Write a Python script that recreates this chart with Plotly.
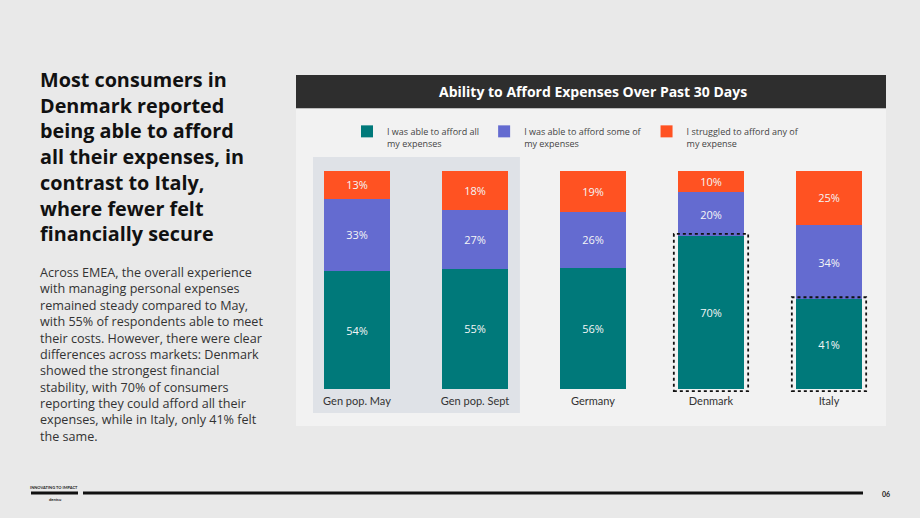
import plotly.graph_objects as go

categories = ["Gen pop. May", "Gen pop. Sept", "Germany", "Denmark", "Italy"]
afford_all = [54, 55, 56, 70, 41]
afford_some = [33, 27, 26, 20, 34]
struggled = [13, 18, 19, 10, 25]
series_names = [
    "I was able to afford all<br>my expenses",
    "I was able to afford some of<br>my expenses",
    "I struggled to afford any of<br>my expense",
]
colors = ["#00797a", "#646bd0", "#ff5222"]
highlighted = ["Denmark", "Italy"]

headline = [
    "Most consumers in", "Denmark reported", "being able to afford",
    "all their expenses, in", "contrast to Italy,", "where fewer felt",
    "financially secure",
]
body = [
    "Across EMEA, the overall experience",
    "with managing personal expenses",
    "remained steady compared to May,",
    "with 55% of respondents able to meet",
    "their costs. However, there were clear",
    "differences across markets: Denmark",
    "showed the strongest financial",
    "stability, with 70% of consumers",
    "reporting they could afford all their",
    "expenses, while in Italy, only 41% felt",
    "the same.",
]
chart_title = "Ability to Afford Expenses Over Past 30 Days"

W, H = 920, 518
FONT = "Lato"
FONT2 = "Open Sans"

totals = [a + b + c for a, b, c in zip(afford_all, afford_some, struggled)]

fig = go.Figure()
for name, vals, col in zip(series_names, [afford_all, afford_some, struggled], colors):
    fig.add_trace(go.Bar(
        x=categories, y=vals, name=name,
        marker=dict(color=col, line=dict(width=0)),
        text=[f"{v}%" for v in vals],
        textposition="inside", insidetextanchor="middle", textangle=0,
        textfont=dict(color="#f4f6f6", size=11, family=FONT2),
        hoverinfo="skip",
    ))


def px_x(v):
    return v / W


def px_y(v):
    return 1 - v / H


shapes = []
# page panels (decoration)
shapes.append(dict(type="rect", xref="paper", yref="paper", x0=px_x(296), x1=px_x(886),
                   y0=px_y(426), y1=px_y(108), fillcolor="#f2f2f2", line=dict(width=0), layer="below"))
shapes.append(dict(type="rect", xref="paper", yref="paper", x0=px_x(296), x1=px_x(886),
                   y0=px_y(108), y1=px_y(75), fillcolor="#2e2e2e", line=dict(width=0), layer="below"))
shapes.append(dict(type="line", xref="paper", yref="paper", x0=px_x(296), x1=px_x(886),
                   y0=px_y(108.5), y1=px_y(108.5), line=dict(color="#bdbdbd", width=1), layer="below"))
# highlight band behind gen pop bars
shapes.append(dict(type="rect", xref="x", yref="paper", x0=-0.373, x1=1.381,
                   y0=px_y(413), y1=px_y(157), fillcolor="#dfe2e7", line=dict(width=0), layer="below"))
# dotted boxes around highlighted segments
for cat in highlighted:
    i = categories.index(cat)
    top = afford_all[i] / totals[i] * 100
    shapes.append(dict(type="rect", xref="x", yref="y", x0=i - 0.315, x1=i + 0.315,
                       y0=-1, y1=top + 1, line=dict(color="#111111", width=1.8, dash="dot"),
                       fillcolor="rgba(0,0,0,0)", layer="above"))
# footer
shapes.append(dict(type="line", xref="paper", yref="paper", x0=px_x(83), x1=px_x(863),
                   y0=px_y(493), y1=px_y(493), line=dict(color="#111111", width=3.2)))
shapes.append(dict(type="line", xref="paper", yref="paper", x0=px_x(31), x1=px_x(78),
                   y0=px_y(493), y1=px_y(493), line=dict(color="#111111", width=3.2)))

annotations = []
annotations.append(dict(text=f"<b>{chart_title}</b>", x=px_x(593), y=px_y(91.5), xref="paper", yref="paper",
                        xanchor="center", yanchor="middle", showarrow=False,
                        font=dict(color="white", size=14, family=FONT2)))
annotations.append(dict(text="<b>" + "<br>".join(headline) + "</b>", x=px_x(39), y=px_y(156),
                        xref="paper", yref="paper", xanchor="left", yanchor="middle", align="left",
                        showarrow=False, borderpad=0,
                        font=dict(color="#111111", size=19.8, family=FONT2)))
annotations.append(dict(text="<br>".join(body), x=px_x(39), y=px_y(354),
                        xref="paper", yref="paper", xanchor="left", yanchor="middle", align="left",
                        showarrow=False, borderpad=0,
                        font=dict(color="#333333", size=12.6, family=FONT2)))
annotations.append(dict(text="<b>INNOVATING TO IMPACT</b>", x=px_x(54), y=px_y(487.5), xref="paper", yref="paper",
                        xanchor="center", yanchor="middle", showarrow=False,
                        font=dict(color="#222222", size=4, family=FONT)))
annotations.append(dict(text="<b>dentsu</b>", x=px_x(55), y=px_y(499), xref="paper", yref="paper",
                        xanchor="center", yanchor="middle", showarrow=False,
                        font=dict(color="#222222", size=4, family=FONT)))
annotations.append(dict(text="<b>06</b>", x=px_x(886), y=px_y(494), xref="paper", yref="paper",
                        xanchor="center", yanchor="middle", showarrow=False,
                        font=dict(color="#222222", size=7, family=FONT)))

fig.update_layout(
    width=W, height=H,
    margin=dict(l=0, r=0, t=0, b=0),
    paper_bgcolor="#e9e9e9", plot_bgcolor="rgba(0,0,0,0)",
    barmode="stack", barnorm="percent", bargap=0.44,
    font=dict(family=FONT, color="#333333"),
    xaxis=dict(domain=[px_x(298), px_x(888)], range=[-0.5, 4.5], showgrid=False, zeroline=False,
               showline=False, ticks="", tickfont=dict(size=11, color="#333333", family=FONT)),
    yaxis=dict(domain=[px_y(393.4), px_y(170.5)], range=[-2, 100], showgrid=False, zeroline=False,
               showline=False, showticklabels=False, ticks=""),
    showlegend=True,
    legend=dict(orientation="h", x=px_x(347), y=px_y(119), xanchor="left", yanchor="top",
                valign="top", font=dict(size=9, color="#444444", family=FONT2),
                bgcolor="rgba(0,0,0,0)", traceorder="normal", itemclick=False, itemdoubleclick=False),
    shapes=shapes, annotations=annotations,
)

fig.write_html("out.html")
